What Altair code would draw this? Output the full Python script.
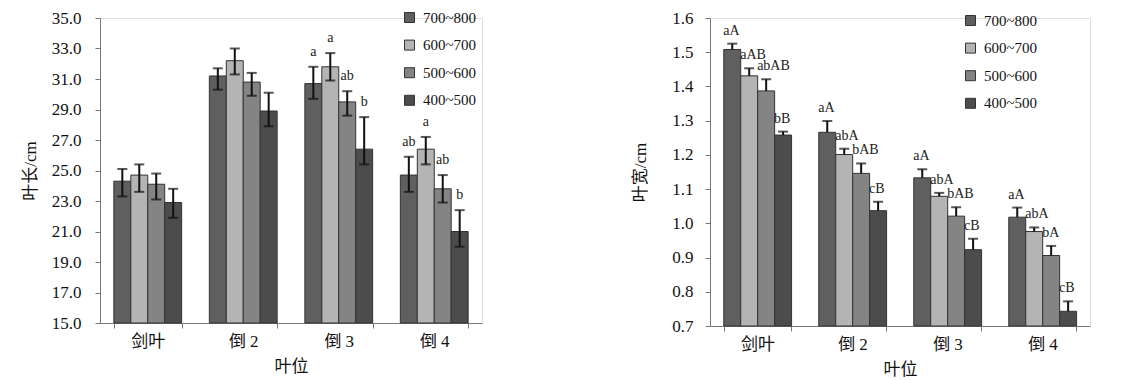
import altair as alt
import pandas as pd

positions = ["剑叶", "倒 2", "倒 3", "倒 4"]
groups = ["700~800", "600~700", "500~600", "400~500"]
colors = ["#5f5f5f", "#b4b4b4", "#848484", "#4c4c4c"]

# 叶长 (leaf length), listed per position, then per group
len_vals = [24.3, 24.7, 24.1, 22.9,
            31.2, 32.2, 30.8, 28.9,
            30.7, 31.8, 29.5, 26.4,
            24.7, 26.4, 23.8, 21.0]
len_hi = [25.1, 25.4, 24.8, 23.8,
          31.7, 33.0, 31.4, 30.1,
          31.8, 32.7, 30.2, 28.5,
          25.9, 27.2, 24.7, 22.4]
len_lo = [23.3, 23.6, 23.1, 21.9,
          30.3, 31.3, 29.9, 27.9,
          29.7, 30.9, 28.6, 25.4,
          23.6, 25.4, 22.9, 20.0]
len_lab = ["", "", "", "",
           "", "", "", "",
           "a", "a", "ab", "b",
           "ab", "a", "ab", "b"]

# 叶宽 (leaf width)
wid_vals = [1.508, 1.431, 1.387, 1.258,
            1.266, 1.201, 1.146, 1.037,
            1.133, 1.079, 1.021, 0.923,
            1.018, 0.976, 0.906, 0.743]
wid_hi = [1.525, 1.453, 1.421, 1.268,
          1.299, 1.218, 1.175, 1.063,
          1.158, 1.089, 1.047, 0.955,
          1.046, 0.988, 0.934, 0.772]
wid_lab = ["aA", "aAB", "abAB", "bB",
           "aA", "abA", "bAB", "cB",
           "aA", "abA", "bAB", "cB",
           "aA", "abA", "bA", "cB"]

len_ticks = [15.0, 17.0, 19.0, 21.0, 23.0, 25.0, 27.0, 29.0, 31.0, 33.0, 35.0]
wid_ticks = [0.7, 0.8, 0.9, 1.0, 1.1, 1.2, 1.3, 1.4, 1.5, 1.6]

rows = []
for i, p in enumerate(positions):
    for j, g in enumerate(groups):
        k = i * 4 + j
        rows.append(dict(pos=p, grp=g, lv=len_vals[k], lhi=len_hi[k], llo=len_lo[k],
                         llab=len_lab[k], lbase=len_ticks[0],
                         wv=wid_vals[k], whi=wid_hi[k], wlab=wid_lab[k], wbase=wid_ticks[0]))
df = pd.DataFrame(rows)

FONT = "Liberation Serif"
MIX = "Liberation Serif, Noto Sans CJK SC"


def panel(val, hi, lo, lab, base, ticks, title, w, h, legx, legy,
          label_align, label_dx, label_dy, lab_pad, title_pad):
    x = alt.X("pos:N", sort=positions, title="叶位",
              scale=alt.Scale(paddingInner=0.29, paddingOuter=0.145),
              axis=alt.Axis(labelAngle=0, labelFont=MIX, labelFontSize=17, labelColor="#111",
                            titleFont=MIX, titleFontSize=17, titleFontWeight="normal", titleColor="#111",
                            tickBand="extent", tickSize=5, labelPadding=5, titlePadding=9,
                            domainColor="#777", tickColor="#777"))
    xo = alt.XOffset("grp:N", sort=groups, scale=alt.Scale(paddingInner=0, paddingOuter=0))
    y = alt.Y(f"{val}:Q", title=title,
              scale=alt.Scale(domain=[ticks[0], ticks[-1]], zero=False, nice=False),
              axis=alt.Axis(values=ticks, tickCount=len(ticks) + 5, format=".1f", grid=False,
                            labelOverlap=False,
                            labelFont=FONT, labelFontSize=17, labelColor="#111",
                            titleFont=MIX, titleFontSize=17, titleFontWeight="normal", titleColor="#111",
                            tickSize=5, labelPadding=lab_pad, titlePadding=title_pad,
                            domainColor="#777", tickColor="#777"))
    color = alt.Color("grp:N", sort=groups, title=None,
                      scale=alt.Scale(domain=groups, range=colors),
                      legend=alt.Legend(orient="none", legendX=legx, legendY=legy, symbolType="square",
                                        symbolSize=100, symbolStrokeColor="#333", symbolStrokeWidth=1,
                                        labelFont=FONT, labelFontSize=15, labelColor="#111",
                                        rowPadding=11.6, labelOffset=6, padding=0))
    xx = alt.X("pos:N", sort=positions)
    bars = alt.Chart(df).mark_bar(stroke="#333", strokeWidth=1).encode(
        x=x, xOffset=xo, y=y, y2=alt.Y2(f"{base}:Q"), color=color)
    if lo is not None:
        rule = alt.Chart(df).mark_rule(color="#111", strokeWidth=2).encode(
            x=xx, xOffset=xo, y=alt.Y(f"{lo}:Q"), y2=f"{hi}:Q")
        cap_lo = alt.Chart(df).mark_tick(color="#111", thickness=2, size=10).encode(
            x=xx, xOffset=xo, y=alt.Y(f"{lo}:Q"))
        extra = [rule, cap_lo]
    else:
        rule = alt.Chart(df).mark_rule(color="#111", strokeWidth=2).encode(
            x=xx, xOffset=xo, y=alt.Y(f"{val}:Q"), y2=f"{hi}:Q")
        extra = [rule]
    cap_hi = alt.Chart(df).mark_tick(color="#111", thickness=2, size=10).encode(
        x=xx, xOffset=xo, y=alt.Y(f"{hi}:Q"))
    text = alt.Chart(df).mark_text(font=FONT, fontSize=14, color="#222", baseline="bottom",
                                   align=label_align, dx=label_dx, dy=label_dy).encode(
        x=xx, xOffset=xo, y=alt.Y(f"{hi}:Q"), text=f"{lab}:N")
    return alt.layer(bars, *extra, cap_hi, text).properties(width=w, height=h)


left = panel("lv", "lhi", "llo", "llab", "lbase", len_ticks, "叶长/cm",
             382, 305, 302, -8, "center", 0, -8, 14, 12)
right = panel("wv", "whi", None, "wlab", "wbase", wid_ticks, "叶宽/cm",
              380, 308, 253, -5, "left", -9, -6, 12, 22)

chart = alt.hconcat(left, right, spacing=148).resolve_scale(
    y="independent", color="independent").resolve_legend(color="independent").properties(
    padding={"left": 12, "top": 0, "right": 5, "bottom": 0}
).configure_view(stroke=None).configure(background="white").configure_axisY(
    labelOverlap=False, labelFont=FONT
).configure_legend(labelFont=FONT)

chart.save("out.html", embed_options={"renderer": "svg", "actions": False})
